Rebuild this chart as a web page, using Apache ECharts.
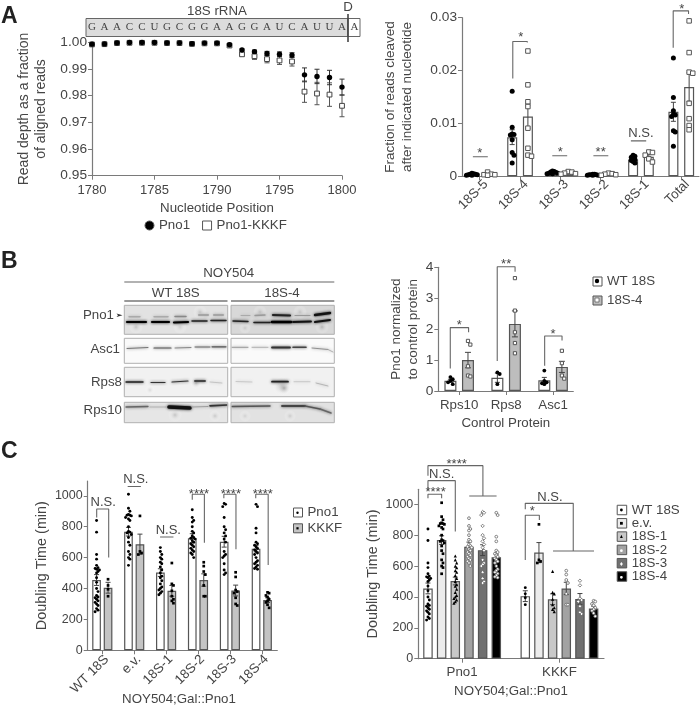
<!DOCTYPE html>
<html><head><meta charset="utf-8">
<style>html,body{margin:0;padding:0;background:#fff}#c{width:700px;height:707px}</style>
<script src="https://cdn.jsdelivr.net/npm/echarts@6/dist/echarts.min.js"></script>
</head><body><div id="c"></div>
<script>
// ---------- Panel A, read depth ----------
const positions=[1780,1781,1782,1783,1784,1785,1786,1787,1788,1789,1790,1791,1792,1793,1794,1795,1796,1797,1798,1799,1800];
const depthPno1=[.9993,.9994,.9998,.9999,.9999,.9999,.9998,.9998,.9995,.9997,.9997,.9991,.9971,.9965,.9958,.9955,.9952,.9878,.9872,.9868,.9832];
const depthKKKF=[.9992,.9993,.9997,.9998,.9998,.9998,.9997,.9997,.9994,.9996,.9996,.9988,.9955,.9948,.9937,.9932,.9928,.9815,.9808,.9804,.9762];
const depthErrPno1=[.0002,.0002,.0001,.0001,.0001,.0001,.0001,.0001,.0002,.0001,.0001,.0003,.0004,.0006,.0008,.0009,.0009,.0026,.0027,.0027,.003];
const depthErrKKKF=[.0002,.0002,.0001,.0001,.0001,.0001,.0001,.0001,.0002,.0001,.0001,.0004,.0006,.0012,.0014,.0015,.0017,.004,.0042,.0044,.0041];
const sequence=['G','A','A','C','C','U','G','C','G','G','A','A','G','G','A','U','C','A','U','U','A','A'];
// ---------- Panel A, cleavage ----------
const cleaveCats=['18S-5','18S-4','18S-3','18S-2','18S-1','Total'];
const cleaveMeanPno1=[.0003,.0074,.0006,.0003,.0032,.0122];
const cleaveMeanKKKF=[.0004,.0113,.0006,.0004,.0037,.0169];
const cleaveErrPno1=[.0001,.0014,.0001,.0001,.0003,.0018];
const cleaveErrKKKF=[.0002,.0022,.0002,.0001,.0004,.0027];
const cleavePno1=[[.0006,.0005,.0004,.0004,.0003,.0003,.0002,.0002],[.0161,.0093,.0080,.0079,.0078,.0069,.0045,.0040,.0025],[.0010,.0009,.0008,.0007,.0006,.0006,.0005,.0005],[.0004,.0004,.0003,.0003,.0003,.0002,.0002,.0002],[.0040,.0038,.0036,.0034,.0032,.0030,.0028,.0025],[.0224,.0149,.0124,.0117,.0116,.0113,.0086,.0084,.0057]];
const cleaveKKKF=[[.0008,.0004,.0003,.0003,.0002],[.0237,.0173,.0141,.0132,.0091,.0053,.0040,.0038],[.0009,.0008,.0006,.0005,.0004],[.0006,.0005,.0004,.0003,.0002],[.0046,.0045,.0040,.0033,.0027],[.0294,.0234,.0197,.0195,.0138,.0109,.0096,.0088]];
// ---------- Panel B ----------
const ctrlCats=['Rps10','Rps8','Asc1'];
const ctrlMeanWT=[.33,.43,.35];
const ctrlMean4=[1.0,2.17,.78];
const ctrlErrWT=[.05,.15,.09];
const ctrlErr4=[.25,.42,.18];
const ctrlWT=[[.45,.38,.33,.28,.22],[.6,.55,.22],[.66,.33,.28,.25,.22]];
const ctrl4=[[1.62,1.5,.8,.5,.47],[3.65,2.6,1.9,1.55,1.22],[1.3,.9,.5,.4]];
// ---------- Panel C ----------
const strainCats=['WT 18S','e.v.','18S-1','18S-2','18S-3','18S-4'];
const meanPno1=[455,768,503,725,703,657];
const meanKKKF=[405,687,385,455,387,325];
const errPno1=[35,28,25,30,35,20];
const errKKKF=[35,65,35,40,35,15];
const dtPno1=[
[840,765,620,590,550,535,530,525,520,510,500,470,440,400,380,355,345,340,330,320,310,300,290,270,260,250],
[1010,920,900,880,875,875,870,860,850,840,800,770,765,760,750,730,700,680,640,620,600,590,550],
[665,640,620,600,590,570,560,540,520,500,480,470,450,430,410,400,390,380,370,360],
[910,860,840,830,800,770,760,740,730,725,720,710,700,690,680,670,660,650,640,630,620,600],
[950,945,930,860,800,780,760,740,720,700,640,620,610,600,560,520,500,490],
[945,930,790,760,700,690,680,670,660,650,640,630,620,600,580,570,560,550,540,530,525]];
const dtKKKF=[
[460,420,395,350],[870,640,630,620],[565,430,420,385,350,330,320,305],[570,545,510,490,420,350,350],[505,475,390,380,370,340,300,290],[375,370,355,345,330,320,310,295,275]];
const groupCats=['Pno1','KKKF'];

const FONT='"Liberation Sans",Arial,sans-serif', TXT='#454545', AX='#7a7a7a', BORDER='#555';
const grids=[],xAxes=[],yAxes=[],series=[],graphics=[];

function addPanel(p){
  const i=grids.length;
  grids.push({left:p.l,top:p.t,width:p.r-p.l,height:p.b-p.t,containLabel:false});
  const axisLine={onZero:false,lineStyle:{color:AX,width:1.2}};
  const axisTick={length:4,lineStyle:{color:AX,width:1}};
  const x={gridIndex:i,type:'value',min:p.xmin,max:p.xmax,splitLine:{show:false},axisLine,
    axisTick:{...axisTick},axisLabel:{color:TXT,fontFamily:FONT,fontSize:p.xfs||13.3,margin:p.xmargin||8},
    name:p.xname||'',nameLocation:'middle',nameGap:p.xgap||24,nameTextStyle:{color:TXT,fontFamily:FONT,fontSize:13.3}};
  if(p.xticks){
    const shift=p.xshift||0, labs=p.xticks.map(t=>t+shift);
    x.axisTick.customValues=p.xticks;
    x.axisLabel.customValues=labs;
    x.axisLabel.formatter=v=>{const k=labs.findIndex(t=>Math.abs(t-v)<1e-6);return p.xnames[k];};
    if(p.rot){x.axisLabel.rotate=p.rot;}
  } else {x.interval=p.xint;x.axisLabel.formatter=v=>String(v);}
  const y={gridIndex:i,type:'value',min:p.ymin,max:p.ymax,splitLine:{show:false},axisLine,
    axisTick:{...axisTick},axisLabel:{color:TXT,fontFamily:FONT,fontSize:p.tfs||13.7,margin:p.ymargin||5,formatter:p.yfmt||(v=>String(v))},
    name:p.yname,nameLocation:'middle',nameGap:p.ygap,nameRotate:90,
    nameTextStyle:{color:TXT,fontFamily:FONT,fontSize:p.yfs||13.5,lineHeight:p.ylh||17}};
  if(p.yticks){y.axisTick.customValues=p.yticks;y.axisLabel.customValues=p.yticks;}
  else y.interval=p.yint;
  xAxes.push(x);yAxes.push(y);
  return i;
}
const on=g=>({xAxisIndex:g,yAxisIndex:g,animation:false,silent:true});

function bars(g,name,xs,ys,fill,w){
  series.push({...on(g),type:'bar',name,barWidth:w,barGap:'-100%',z:2,
    data:xs.map((x,i)=>[x,ys[i]]),itemStyle:{color:fill,borderColor:BORDER,borderWidth:1.2}});
}
function errs(g,xs,ys,es,cap,color){
  series.push({...on(g),type:'custom',z:6,encode:{x:0,y:1},data:xs.map((x,i)=>[x,ys[i],es[i]]),
    renderItem:(p,api)=>{
      const v=[api.value(0),api.value(1),api.value(2)];
      const a=api.coord([v[0],v[1]+v[2]]),b=api.coord([v[0],v[1]-v[2]]);
      const st={stroke:color,lineWidth:1};
      return {type:'group',children:[
        {type:'line',shape:{x1:a[0],y1:a[1],x2:b[0],y2:b[1]},style:st},
        {type:'line',shape:{x1:a[0]-cap,y1:a[1],x2:a[0]+cap,y2:a[1]},style:st},
        {type:'line',shape:{x1:b[0]-cap,y1:b[1],x2:b[0]+cap,y2:b[1]},style:st}]};
    }});
}
// symmetric swarm: pick the free (or least crowded) sideways slot for each value
function swarm(center,vals,yGap,step,slots){
  const placed=[];
  [...vals].sort((a,b)=>b-a).forEach(v=>{
    let best=0,bestN=1e9;
    for(let k=0;k<=slots*2;k++){
      const s=k===0?0:(k%2?1:-1)*Math.ceil(k/2);
      const n=placed.filter(q=>q[2]===s&&Math.abs(q[1]-v)<yGap).length;
      if(n<bestN){bestN=n;best=s;}
      if(n===0)break;
    }
    placed.push([center+best*step,v,best]);
  });
  return placed.map(q=>[q[0],q[1]]);
}
function dots(g,data,symbol,size,color,border,bw,z){
  series.push({...on(g),type:'scatter',symbol,symbolSize:size,z:z||8,clip:false,data,
    itemStyle:{color,borderColor:border||color,borderWidth:bw||0,opacity:1}});
}
function path(g,pts,color,w){
  series.push({...on(g),type:'line',z:5,clip:false,showSymbol:false,symbol:'none',data:pts,
    lineStyle:{color:color||'#666',width:w||1.1}});
}
function note(g,x,y,text,fs){
  series.push({...on(g),type:'custom',z:9,encode:{x:0,y:1},data:[[x,y]],
    renderItem:(p,api)=>{const c=api.coord([api.value(0),api.value(1)]);
      return {type:'text',style:{text,x:c[0],y:c[1],align:'center',verticalAlign:'middle',
        font:(fs||13)+'px '+FONT,fill:TXT}};}});
}
function bracket(g,x1,x2,top,d1,d2){path(g,[[x1,d1],[x1,top],[x2,top],[x2,d2]]);}
function text(t,x,y,o){graphics.push({type:'text',z:50,silent:true,style:Object.assign({text:t,x,y,font:'13.3px '+FONT,fill:TXT,align:'center',verticalAlign:'middle'},o||{})});}
function hline(x1,x2,y,c,w){graphics.push({type:'line',z:50,silent:true,shape:{x1,y1:y,x2,y2:y},style:{stroke:c||'#666',lineWidth:w||1.2}});}

// ================= Panel A left
const gA=addPanel({l:92,r:342,t:42.3,b:175.7,xmin:1780,xmax:1800,xint:5,xfs:13,ymin:.95,ymax:1,yint:.01,
  yfmt:v=>v.toFixed(2),yname:'Read depth as a fraction\nof aligned reads',yfs:14,ygap:42,xname:'Nucleotide Position',xgap:26});
errs(gA,positions,depthKKKF,depthErrKKKF,2.5,'#555');
dots(gA,positions.map((x,i)=>[x,depthKKKF[i]]),'rect',4.8,'#fff','#444',1,7);
series[series.length-1].name='Pno1-KKKF';
errs(gA,positions,depthPno1,depthErrPno1,2.5,'#333');
dots(gA,positions.map((x,i)=>[x,depthPno1[i]]),'circle',5.4,'#000');
series[series.length-1].name='Pno1';
series.push({...on(gA),type:'custom',z:9,encode:{x:0,y:1},data:sequence.map((s,i)=>[1780+i,1.0057]),
  renderItem:(p,api)=>{const c=api.coord([api.value(0),api.value(1)]);
    return {type:'text',style:{text:sequence[p.dataIndex],x:c[0],y:c[1],align:'center',verticalAlign:'middle',font:'11px "Liberation Serif",serif',fill:'#444'}};}});
graphics.push({type:'rect',z:1,silent:true,shape:{x:86,y:18.5,width:262,height:18},style:{fill:'#dcdcdc',stroke:'#666',lineWidth:1}});
graphics.push({type:'rect',z:1,silent:true,shape:{x:348,y:18.5,width:12,height:18},style:{fill:'#fff',stroke:'#666',lineWidth:1}});
graphics.push({type:'line',z:50,silent:true,shape:{x1:348,y1:14,x2:348,y2:42},style:{stroke:'#444',lineWidth:1.6}});
text('18S rRNA',217,11.5);
text('D',348,7);

// ================= Panel A right
const gA2=addPanel({l:462,r:699,t:17.7,b:176.3,xmin:-.44,xmax:5.44,xticks:[0,1,2,3,4,5],xnames:cleaveCats,rot:45,xshift:.15,xmargin:6,
  ymin:0,ymax:.03,yint:.01,yfmt:v=>v===0?'0':v.toFixed(2),yname:'Fraction of reads cleaved\nafter indicated nucleotide',ygap:46});
const off2=.195, xs2=cleaveCats.map((c,i)=>i);
bars(gA2,'cl1',xs2.map(x=>x-off2),cleaveMeanPno1,'#fff',10);
bars(gA2,'cl2',xs2.map(x=>x+off2),cleaveMeanKKKF,'#fff',10);
errs(gA2,xs2.map(x=>x-off2),cleaveMeanPno1,cleaveErrPno1,2.5,'#444');
errs(gA2,xs2.map(x=>x+off2),cleaveMeanKKKF,cleaveErrKKKF,2.5,'#444');
xs2.forEach(i=>{
  dots(gA2,swarm(i-off2,cleavePno1[i],.0005,.045,3),'circle',5,'#000');
  dots(gA2,swarm(i+off2,cleaveKKKF[i],.0006,.09,2),'rect',4.5,'#fff','#555',1);
});
path(gA2,[[-.17,.0037],[.2,.0037]]);note(gA2,0,.0043,'*');
bracket(gA2,.82,1.18,.0255,.0185,.0253);note(gA2,1.02,.0262,'*');
path(gA2,[[1.8,.0039],[2.17,.0039]]);note(gA2,2,.0045,'*');
path(gA2,[[2.82,.0039],[3.19,.0039]]);note(gA2,3,.0045,'**');
path(gA2,[[3.75,.0067],[4.13,.0067]]);note(gA2,4,.0081,'N.S.');
bracket(gA2,4.8,5.18,.0313,.0243,.0307);note(gA2,5.01,.0316,'*');

// ================= Panel B chart
const gB=addPanel({l:438.3,r:573.3,t:267.3,b:391,xmin:-.445,xmax:2.43,xticks:[0,1,2],xnames:ctrlCats,
  ymin:0,ymax:4,yint:1,yname:'Pno1 normalized\nto control protein',ygap:17,xname:'Control Protein',xgap:26,xmargin:8});
const offB=.187,xsB=[0,1,2];
bars(gB,'WT 18S',xsB.map(x=>x-offB),ctrlMeanWT,'#fff',12);
bars(gB,'18S-4',xsB.map(x=>x+offB),ctrlMean4,'#bdbdbd',12);
errs(gB,xsB.map(x=>x-offB),ctrlMeanWT,ctrlErrWT,2.5,'#444');
errs(gB,xsB.map(x=>x+offB),ctrlMean4,ctrlErr4,3,'#444');
xsB.forEach(i=>{
  dots(gB,swarm(i-offB,ctrlWT[i],.12,.05,1),'circle',3.8,'#000');
  dots(gB,swarm(i+offB,ctrl4[i],.15,.05,1),'rect',3.2,'#fff','#555',1);
});
bracket(gB,-.19,.2,2.05,.73,1.9);note(gB,0,2.12,'*');
bracket(gB,.81,1.19,4.02,.97,3.86);note(gB,1,4.1,'**');
bracket(gB,1.82,2.19,1.78,.82,1.63);note(gB,2,1.84,'*');

// ================= Panel C left
const gC=addPanel({l:87.7,r:277.3,t:481,b:650.3,xmin:-.458,xmax:5.486,xticks:[0,1,2,3,4,5],xnames:strainCats,rot:45,xshift:.14,xmargin:7,
  ymin:0,ymax:1096,yticks:[0,200,400,600,800,1000],tfs:12.5,yname:'Doubling Time (min)',ygap:31,yfs:14.4});
const offC=.18,xsC=[0,1,2,3,4,5];
bars(gC,'Pno1|c',xsC.map(x=>x-offC),meanPno1,'#fff',8.7);
bars(gC,'KKKF|c',xsC.map(x=>x+offC),meanKKKF,'#c4c4c4',8.7);
errs(gC,xsC.map(x=>x-offC),meanPno1,errPno1,2.5,'#444');
errs(gC,xsC.map(x=>x+offC),meanKKKF,errKKKF,2.5,'#444');
xsC.forEach(i=>{
  dots(gC,swarm(i-offC,dtPno1[i],22,.045,3),'circle',2.9,'#000');
  dots(gC,swarm(i+offC,dtKKKF[i],22,.05,2),'rect',2.7,'#000');
});
bracket(gC,-.176,.2,915,860,600);note(gC,.03,957,'N.S.');
path(gC,[[.795,1060],[1.21,1060]]);note(gC,1.05,1103,'N.S.');
path(gC,[[1.81,733],[2.23,733]]);note(gC,2.07,776,'N.S.');
bracket(gC,2.82,3.2,1010,975,697);note(gC,3.03,1012,'****');
bracket(gC,3.81,4.19,1010,985,654);note(gC,4.03,1012,'****');
bracket(gC,4.81,5.2,1010,985,553);note(gC,5.03,1012,'****');
text('NOY504;Gal::Pno1',179,699);

// ================= Panel C right
const gD=addPanel({l:418.3,r:604,t:489.3,b:658.7,xmin:-.707,xmax:12.88,xticks:[2.5,9.62],xnames:groupCats,xmargin:7,
  ymin:0,ymax:1097,yticks:[0,200,400,600,800,1000],tfs:12.5,yname:'Doubling Time (min)',ygap:32,yfs:14.4});
const fills=['#ffffff','#ececec','#c8c8c8','#a2a2a2','#707070','#000000'];
const styles=[['circle',2.9,'#000','#000',0],['rect',2.7,'#000','#000',0],['triangle',3.2,'#000','#000',0],
  ['circle',2.8,'#fff','#666',.8],['diamond',3.4,'#fff','#666',.8],['circle',2.8,'#fff','#666',.8]];
strainCats.forEach((n,i)=>{
  const x1=i,x2=7.12+i;
  bars(gD,n+' ',[x1,x2],[meanPno1[i],meanKKKF[i]],fills[i],9.5);
  errs(gD,[x1,x2],[meanPno1[i],meanKKKF[i]],[errPno1[i],errKKKF[i]],2.5,'#444');
  const s=styles[i];
  dots(gD,swarm(x1,dtPno1[i],22,.1,3),s[0],s[1],s[2],s[3],s[4]);
  dots(gD,swarm(x2,dtKKKF[i],22,.12,2),s[0],s[1],s[2],s[3],s[4]);
});
bracket(gD,0,1,1065,1039,1039);note(gD,.56,1075,'****');
bracket(gD,0,2,1153,1093,823);note(gD,1,1194,'N.S.');
bracket(gD,0,4.02,1250,1184,1054);path(gD,[[3.02,1054],[5.02,1054]]);note(gD,2.1,1255,'****');
bracket(gD,7.12,10.63,1006,968,697);path(gD,[[9.15,697],[12.15,697]]);note(gD,8.93,1045,'N.S.');
bracket(gD,7.12,8.15,929,639,898);note(gD,7.63,952,'*');
text('NOY504;Gal::Pno1',511,691);

// ================= Panel letters
const big={font:'bold 23px '+FONT,fill:'#222',align:'left'};
text('A',1,17,big);text('B',1,262,big);text('C',1,452,big);

// ================= Legend inner markers
function legDot(type,cx,cy,r,fill,stroke){
  const st={fill,stroke:stroke||fill,lineWidth:stroke?.7:0};
  if(type==='circle')graphics.push({type:'circle',z:60,silent:true,shape:{cx,cy,r},style:st});
  else if(type==='rect')graphics.push({type:'rect',z:60,silent:true,shape:{x:cx-r,y:cy-r,width:2*r,height:2*r},style:st});
  else if(type==='tri')graphics.push({type:'polygon',z:60,silent:true,shape:{points:[[cx,cy-r-.5],[cx+r,cy+r],[cx-r,cy+r]]},style:st});
  else graphics.push({type:'polygon',z:60,silent:true,shape:{points:[[cx,cy-r-.5],[cx+r,cy],[cx,cy+r+.5],[cx-r,cy]]},style:st});
}
legDot('circle',597,281,2.2,'#000');legDot('rect',597,300,2,'#fff','#555');
legDot('circle',297.5,512.7,1.2,'#000');legDot('rect',297.5,528.3,1.1,'#000');
[['circle',510,'#000'],['rect',523.3,'#000'],['tri',536.7,'#000'],['circle',550.7,'#fff'],['diamond',564,'#fff'],['circle',577.3,'#fff']]
  .forEach(d=>legDot(d[0],621.4,d[1],1.4,d[2]));

// ================= Western blots (page pixels)
const panels=[
 {x:124.3,y:305.3,w:103.4,h:29,bg:'#e2e2e2'},{x:231,y:305.3,w:103.3,h:29,bg:'#d8d8d8'},
 {x:124.3,y:338.3,w:103.4,h:25,bg:'#fafafa'},{x:231,y:338.3,w:103.3,h:25,bg:'#fafafa'},
 {x:124.3,y:367.3,w:103.4,h:29.4,bg:'#f1f1f1'},{x:231,y:367.3,w:103.3,h:29.4,bg:'#f1f1f1'},
 {x:124.3,y:402.3,w:103.4,h:20.4,bg:'#e6e6e6'},{x:231,y:402.3,w:103.3,h:20.4,bg:'#e2e2e2'}];
const blotches=[[136,327,7,'#c4c4c4'],[200,312,7,'#c8c8c8'],[180,327,7,'#cfcfcf'],[260,312,7,'#c0c0c0'],[322,327,7,'#b4b4b4'],[300,312,7,'#c4c4c4'],[245,328,6,'#c8c8c8'],
 [196,383,6,'#c0c0c0'],[282,386,10,'#b8b8b8'],[284,388,7,'#a8a8a8'],[150,390,5,'#dadada'],
 [175,415,7,'#c4c4c4'],[215,416,6,'#c8c8c8'],[290,416,6,'#cacaca'],[245,416,6,'#d0d0d0']];
const BL=[ // x1,y1,x2,y2,thickness,colour: left WT lanes
 [127,322,146,322,2.2,'#000'],[152,322,169,322,2.2,'#000'],[174,322.5,188,322,2.2,'#000'],[192,321,207,321,1.5,'#222'],[211,320.5,226,320.5,1.5,'#222'],
 [129,316.7,140,316.7,1.4,'#aaa'],[154,316.7,168,316.7,1.4,'#aaa'],[175,316.5,186,316.5,1.5,'#888'],[199,315,208,315,2,'#a5a5a5'],[214,315,223,315,2,'#a5a5a5'],
 [127,348.5,148,347.5,1,'#777'],[154,348,171,348,1.2,'#555'],[175,348,191,347.5,1,'#888'],[195,347,210,347,1,'#666'],[212,346.8,226,346.8,1.2,'#555'],
 [126,382,143,382,1.4,'#222'],[151,382.5,165,382.5,1.2,'#333'],[172,382,188,381,1.2,'#333'],[195,381,205,381,1.8,'#444'],[210,382,222,383,.8,'#bbb'],
 [126,407,148,406.5,1.3,'#666'],[150,407,166,407,.8,'#aaa'],[169,407,190,408,3.6,'#111'],[192,407,208,406.5,.9,'#999'],[210,405.8,227,405,1.7,'#333'],
 // right 18S-4 lanes
 [233,321,248,321.5,1.4,'#222'],[254,322.5,270,322.5,1.6,'#222'],[272,322,291,322,2.6,'#000'],[293,322,311,321.5,1.8,'#111'],[315,322,330,320,2,'#111'],
 [241,315.5,250,315.5,1,'#aaa'],[255,315.5,265,315,1.4,'#999'],[273,315,290,315.5,2.2,'#222'],[295,315.5,310,315.5,1.2,'#999'],[315,315,330,313,2.4,'#111'],
 [232,347.3,248,347.3,1,'#999'],[252,347.3,268,347.3,.9,'#aaa'],[272,347.5,290,347.5,1.8,'#333'],[293,347.3,306,347.3,1.6,'#444'],[312,348,328,349.5,.9,'#888'],[328,349.5,333,352,.9,'#aaa'],
 [236,381.5,252,382,.7,'#bbb'],[272,381.7,288,381.7,1.7,'#222'],[294,381.7,310,381.7,.7,'#bbb'],[316,383,328,386,.8,'#aaa'],
 [232,406.5,270,406,1.5,'#555'],[282,406,305,406,1.8,'#444'],[305,406,320,409,1.4,'#555'],[320,409,331,413,1.6,'#666']];
panels.forEach(p=>graphics.push({type:'rect',z:10,silent:true,shape:{x:p.x,y:p.y,width:p.w,height:p.h},style:{fill:p.bg}}));
blotches.forEach(b=>graphics.push({type:'circle',z:11,silent:true,shape:{cx:b[0],cy:b[1],r:b[2]},
  style:{fill:{type:'radial',x:.5,y:.5,r:.5,colorStops:[{offset:0,color:b[3]},{offset:1,color:'rgba(255,255,255,0)'}]}}}));
BL.forEach(b=>graphics.push({type:'line',z:12,silent:true,shape:{x1:b[0],y1:b[1],x2:b[2],y2:b[3]},
  style:{stroke:b[5],lineWidth:b[4],lineCap:'round',shadowBlur:3,shadowColor:b[5]}}));
panels.forEach(p=>graphics.push({type:'rect',z:13,silent:true,shape:{x:p.x,y:p.y,width:p.w,height:p.h},style:{fill:'none',stroke:'#b0b0b0',lineWidth:1}}));
text('NOY504',228.7,273);hline(124.3,334.3,282);
text('WT 18S',175.7,293);hline(124.3,227.5,301,'#777',1.4);
text('18S-4',282,293);hline(231,334.3,301,'#777',1.4);
[['Pno1',114,315],['Asc1',120,349],['Rps8',122,382],['Rps10',122,410]].forEach(r=>text(r[0],r[1],r[2],{align:'right'}));
graphics.push({type:'polygon',z:50,silent:true,shape:{points:[[116.5,313.5],[122.5,315.3],[116.5,317],[118,315.3]]},style:{fill:'#333'}});

// ================= Legends
const legTxt=()=>({color:TXT,fontFamily:FONT,fontSize:13.3});
const fmt=n=>n.split('|')[0];
const legends=[
 {left:144.5,top:219,data:[{name:'Pno1',icon:'circle'},{name:'Pno1-KKKF',icon:'rect'}],itemGap:12},
 {left:592.5,top:275,orient:'vertical',data:[{name:'WT 18S',icon:'rect'},{name:'18S-4',icon:'rect'}],itemGap:6},
 {left:293,top:506,orient:'vertical',data:[{name:'Pno1|c',icon:'rect'},{name:'KKKF|c',icon:'rect'}],itemGap:2.8}
].map(l=>({show:true,selectedMode:false,itemWidth:9,itemHeight:9,itemStyle:{borderColor:BORDER,borderWidth:1},
  textStyle:legTxt(),formatter:fmt,padding:0,...l}));
legends.push({show:true,selectedMode:false,left:616.7,top:503.5,orient:'vertical',itemWidth:9.5,itemHeight:9.5,itemGap:.3,padding:0,
  textStyle:legTxt(),itemStyle:{borderColor:BORDER,borderWidth:1},data:strainCats.map(n=>({name:n+' ',icon:'rect'})),formatter:n=>n.trim()});

const chart=echarts.init(document.getElementById('c'),null,{renderer:'canvas'});
chart.setOption({animation:false,backgroundColor:'#fff',grid:grids,xAxis:xAxes,yAxis:yAxes,series,legend:legends,graphic:{elements:graphics},tooltip:{show:false}});
</script></body></html>
